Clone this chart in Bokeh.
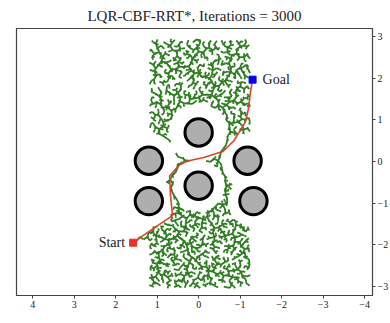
import numpy as np
from bokeh.plotting import figure
from bokeh.models import Range1d, FixedTicker
from bokeh.core.properties import value
from bokeh.embed import file_html
from bokeh.resources import INLINE

title = "LQR-CBF-RRT*, Iterations = 3000"
x_ticks = [4, 3, 2, 1, 0, -1, -2, -3, -4]
y_ticks = [3, 2, 1, 0, -1, -2, -3]

obs_x = [0.0, 1.2, -1.18, 0.0, 1.2, -1.32]
obs_y = [0.7, 0.02, 0.02, -0.58, -0.95, -0.95]
obs_r = [0.33, 0.33, 0.33, 0.33, 0.33, 0.33]
clear_r = [0.7, 0.66, 0.64, 0.62, 0.6, 0.6]

start_x, start_y = 1.58, -1.95
goal_x, goal_y = -1.3, 1.97

path_x = [1.58, 1.08, 0.63, 0.68, 0.70, 0.43, 0.24, -0.12, -0.58, -0.85, -1.13, -1.2, -1.25, -1.3]
path_y = [-1.95, -1.6, -1.3, -0.8, -0.34, -0.05, 0.02, 0.1, 0.24, 0.5, 0.96, 1.27, 1.68, 1.97]

iterations = 3000
box = [-1.25, 1.2, -3.05, 2.95]   # sampling region of the tree
step = 0.11

FONT = "Liberation Serif"


def halton(i, b):
    f, r = 1.0, 0.0
    while i > 0:
        f /= b
        r += f * (i % b)
        i //= b
    return r


# deterministic (quasi-random Halton) RRT-style tree texture
xs0, ys0, xs1, ys1 = [], [], [], []
N = np.array([[start_x, start_y]])
ox = np.array(obs_x); oy = np.array(obs_y); cr = np.array(clear_r)
for i in range(1, iterations + 1):
    sx = box[0] + (box[1] - box[0]) * halton(i, 2)
    sy = box[2] + (box[3] - box[2]) * halton(i, 3)
    d = np.hypot(N[:, 0] - sx, N[:, 1] - sy)
    k = int(np.argmin(d))
    nx, ny = N[k]
    if d[k] > step:
        tx = nx + step * (sx - nx) / d[k]
        ty = ny + step * (sy - ny) / d[k]
    else:
        tx, ty = sx, sy
    if np.any(np.hypot(ox - tx, oy - ty) < cr):
        continue
    xs0.append(nx); ys0.append(ny); xs1.append(tx); ys1.append(ty)
    N = np.vstack([N, [tx, ty]])

p = figure(frame_width=356, frame_height=267, output_backend="svg",
           toolbar_location=None, y_axis_location="right",
           x_range=Range1d(4.39, -4.19), y_range=Range1d(-3.22, 3.2),
           min_border_left=16, min_border_top=6, min_border_right=0,
           min_border_bottom=0, title=title)
p.title.align = "center"
p.title.text_font = FONT
p.title.text_font_size = "15px"
p.title.text_font_style = "normal"
p.title.text_color = "#222222"

p.xgrid.visible = False
p.ygrid.visible = False
p.outline_line_color = "#444444"
p.outline_line_width = 1.2

for ax, ticks in ((p.xaxis[0], x_ticks), (p.yaxis[0], y_ticks)):
    ax.ticker = FixedTicker(ticks=ticks)
    ax.major_label_text_font = FONT
    ax.major_label_text_font_size = "10px"
    ax.major_label_text_color = "#222222"
    ax.major_tick_out = 3
    ax.major_tick_in = 0
    ax.minor_tick_line_color = None
    ax.axis_line_color = "#444444"
    ax.major_tick_line_color = "#444444"
    ax.major_label_standoff = 2

p.segment(xs0, ys0, xs1, ys1, line_color="#2f7d22", line_width=1.8)
p.circle(obs_x, obs_y, radius=obs_r, fill_color="#aeaeae",
         line_color="black", line_width=3)
p.line(path_x, path_y, line_color="#d9452a", line_width=1.6)
p.scatter([start_x], [start_y], marker="square", size=7, fill_color="#e8332a",
          line_color="#e8332a")
p.scatter([goal_x], [goal_y], marker="square", size=7, fill_color="#0000ee",
          line_color="#0000ee")
p.text([start_x], [start_y], text=["Start"], x_offset=-8, text_align="right",
       text_baseline="middle", text_font=value(FONT), text_font_size="14px",
       text_color="#222222")
p.text([goal_x], [goal_y], text=["Goal"], x_offset=10, text_align="left",
       text_baseline="middle", text_font=value(FONT), text_font_size="14px",
       text_color="#222222")

open("out.html", "w").write(file_html(p, INLINE))
